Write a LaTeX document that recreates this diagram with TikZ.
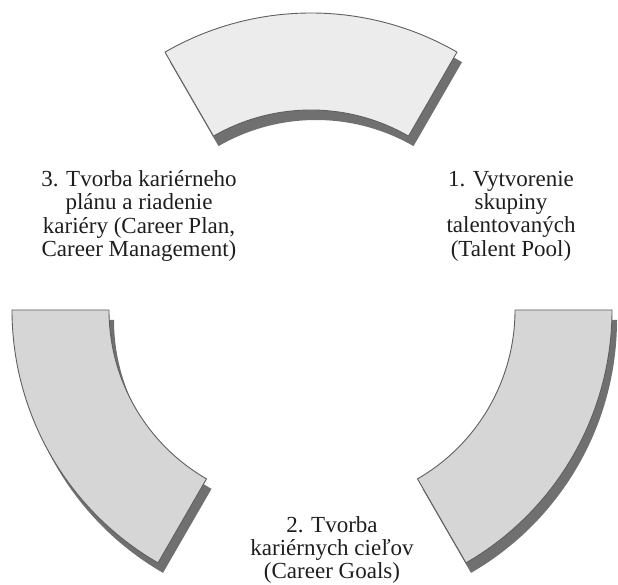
\documentclass[tikz,border=0pt]{standalone}
\usepackage{fontspec}
\setmainfont{Liberation Serif}
\definecolor{outl}{RGB}{95,95,95}
\definecolor{shad}{RGB}{112,112,112}
\definecolor{topfill}{RGB}{236,236,236}
\definecolor{sidefill}{RGB}{214,214,214}
\definecolor{txt}{RGB}{30,30,30}
\newcommand{\ringseg}[6]{%
  \path[#6] (#1) ++(#2:#5) arc[start angle=#2, end angle=#3, radius=#5]
    -- ($(#1)+(#3:#4)$) arc[start angle=#3, end angle=#2, radius=#4] -- cycle;}
\usetikzlibrary{calc}
\begin{document}
\begin{tikzpicture}[x=1pt,y=1pt,
  segbox/.style={draw=outl, line width=0.9pt, line join=round},
  segshadow/.style={fill=shad, draw=none},
  lbl/.style={font=\fontsize{23}{23.3}\selectfont, align=center, text=txt, inner sep=0pt}]
\useasboundingbox (0,0) rectangle (618,584);
% centres of the three ring segments
\coordinate (ctop) at (311,279);
\coordinate (cleft) at (304,274);
\coordinate (cright) at (320,274);
\coordinate (stop) at (316,269);
\coordinate (sleft) at (309,264);
\coordinate (sright) at (325,264);
% shadows
\ringseg{stop}{60}{120}{195}{292}{segshadow}
\ringseg{sleft}{180}{240}{195}{292}{segshadow}
\ringseg{sright}{300}{360}{195}{292}{segshadow}
% segments
\ringseg{ctop}{60}{120}{195}{292}{segbox, fill=topfill}
\ringseg{cleft}{180}{240}{195}{292}{segbox, fill=sidefill}
\ringseg{cright}{300}{360}{195}{292}{segbox, fill=sidefill}
% labels
\node[lbl] (l1) at (511,368) {1. Vytvorenie\\skupiny\\talentovaných\\(Talent Pool)};
\node[lbl] (l2) at (332,34) {2. Tvorba\\kariérnych cieľov\\(Career Goals)};
\node[lbl] (l3) at (139,368) {3. Tvorba kariérneho\\plánu a riadenie\\kariéry (Career Plan,\\Career Management)};
\end{tikzpicture}
\end{document}
